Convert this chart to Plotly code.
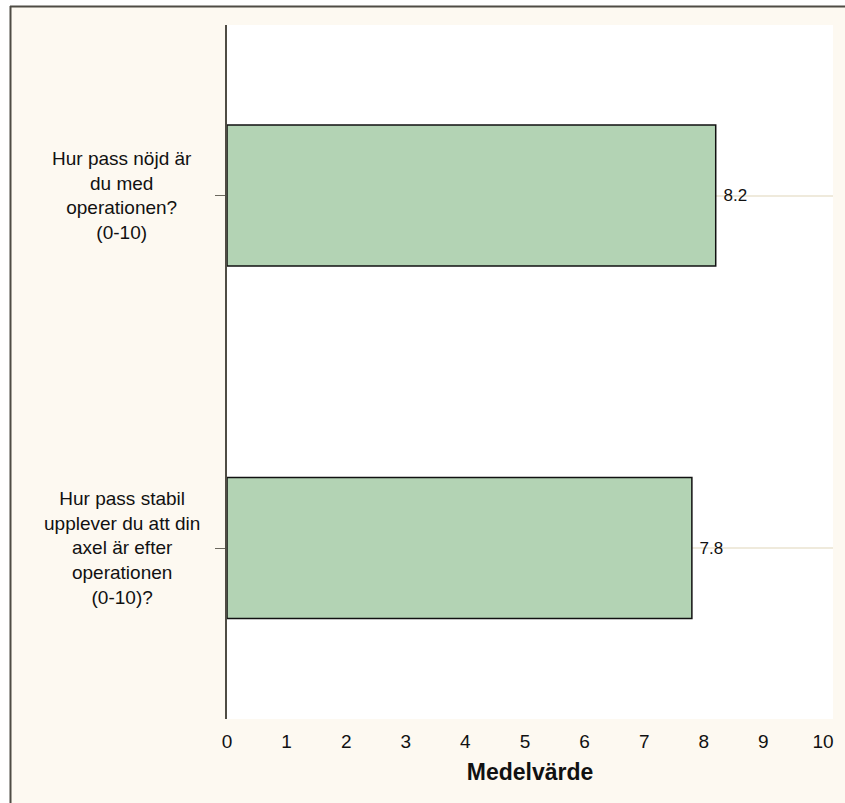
import plotly.graph_objects as go

# Survey questions and their mean scores (0-10 scale)
questions = [
    "Hur pass nöjd är<br>du med<br>operationen?<br>(0-10)",
    "Hur pass stabil<br>upplever du att din<br>axel är efter<br>operationen<br>(0-10)?",
]
means = [8.2, 7.8]
x_ticks = list(range(0, 11))
x_title = "Medelvärde"

W, H = 845, 803
ML, MR, MT, MB = 227, 12, 25, 84
PW, PH = W - ML - MR, H - MT - MB

BEIGE = "#fdf9f1"
DARK = "#4f4c44"
FONT = "Arial, Liberation Sans"

cats = list(range(len(questions)))

fig = go.Figure()
fig.add_trace(go.Bar(
    y=cats,
    x=means,
    orientation="h",
    width=0.4,
    marker=dict(color="#b3d3b4", line=dict(color="#111111", width=1.5)),
    text=[f" {v:.1f}" for v in means],
    textposition="outside",
    textfont=dict(family=FONT, size=17, color="#111111"),
    cliponaxis=False,
    hoverinfo="skip",
))

# Question labels, centred in the left margin
for c, q in zip(cats, questions):
    fig.add_annotation(
        x=-(ML - 122) / PW, xref="paper", xanchor="center",
        y=c, yref="y", yanchor="middle",
        text=q, showarrow=False, align="center",
        font=dict(family=FONT, size=19, color="#111111"),
    )

def px_x(p):
    return (p - ML) / PW

def px_y(p):
    return (H - MB - p) / PH

# Outer frame: white strips and dark left/top edges
fig.add_shape(type="rect", xref="paper", yref="paper",
              x0=px_x(-5), x1=px_x(10), y0=px_y(H + 5), y1=px_y(-5),
              fillcolor="white", line=dict(width=0), layer="above")
fig.add_shape(type="rect", xref="paper", yref="paper",
              x0=px_x(-5), x1=px_x(W + 5), y0=px_y(6), y1=px_y(-5),
              fillcolor="white", line=dict(width=0), layer="above")
fig.add_shape(type="line", xref="paper", yref="paper",
              x0=px_x(10.5), x1=px_x(10.5), y0=px_y(6), y1=px_y(H + 5),
              line=dict(color=DARK, width=2), layer="above")
fig.add_shape(type="line", xref="paper", yref="paper",
              x0=px_x(10), x1=px_x(W + 5), y0=px_y(6.5), y1=px_y(6.5),
              line=dict(color=DARK, width=2), layer="above")

fig.update_layout(
    width=W, height=H,
    margin=dict(l=ML, r=MR, t=MT, b=MB),
    paper_bgcolor=BEIGE,
    plot_bgcolor="white",
    showlegend=False,
    font=dict(family=FONT, color="#111111"),
    xaxis=dict(
        range=[0, PW / 59.6],
        tickvals=x_ticks,
        ticktext=[str(t) for t in x_ticks],
        ticks="",
        ticklabelstandoff=9,
        showgrid=False,
        zeroline=False,
        showline=False,
        tickfont=dict(size=19, color="#111111"),
        title=dict(text=f"<b>{x_title}</b>", font=dict(size=23, color="#111111"), standoff=12),
    ),
    yaxis=dict(
        range=[1.485, -0.484],
        tickvals=cats,
        showticklabels=False,
        ticks="outside",
        ticklen=10,
        tickcolor="#6b685f",
        tickwidth=1,
        showgrid=True,
        gridcolor="#efeadc",
        gridwidth=1.5,
        zeroline=False,
        showline=True,
        linecolor=DARK,
        linewidth=2,
    ),
)

fig.write_html("out.html")
